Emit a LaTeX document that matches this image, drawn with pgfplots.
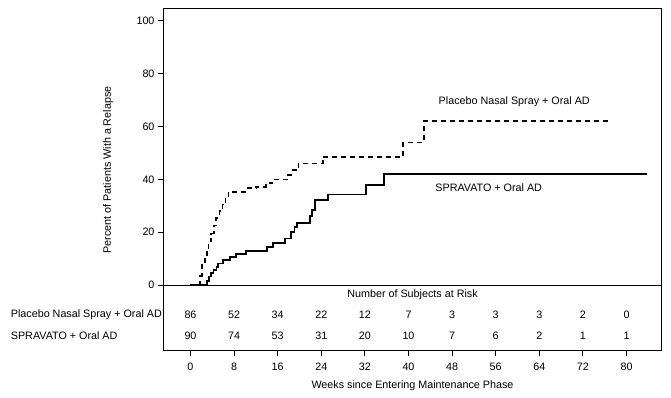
\documentclass[border=0pt]{standalone}
\usepackage{pgfplots}
\usepackage{pgfplotstable}
\pgfplotsset{compat=1.18}
\usepackage{fontspec}
\setmainfont{Liberation Sans}
\newcommand\ff{\fontsize{10.8}{12}\selectfont}

\pgfplotstableread{
x y
0 0
1.75 3.5
2.1 8.2
2.6 10.5
3.0 13
3.3 16.5
3.8 19.5
4.3 22.5
4.7 25.5
5.3 28
5.9 30.5
6.4 33
7.0 35.3
10.5 36.6
12.0 37.2
13.8 38.5
15.0 40
17.9 41.7
18.8 43.5
19.8 46
24.3 48.6
39.0 54
42.8 62
76.6 62
}\placebo

\pgfplotstableread{
x y
0 0
3.0 1.5
3.4 3.2
3.8 4.6
4.2 5.8
4.8 6.9
5.1 8.2
6.0 9.5
7.2 10.7
8.3 11.7
10.2 13.0
14.0 14.5
15.2 16.0
17.3 17.6
18.5 20.2
19.1 22.0
19.5 23.6
21.9 26.0
22.3 28.4
22.8 32.2
25.2 34.3
32.2 37.9
35.5 42.0
83.7 42.0
}\spravato

\pgfplotstableread{
x y n
0 -11.4 86
8 -11.4 52
16 -11.4 34
24 -11.4 22
32 -11.4 12
40 -11.4 7
48 -11.4 3
56 -11.4 3
64 -11.4 3
72 -11.4 2
80 -11.4 0
}\riskP

\pgfplotstableread{
x y n
0 -19.3 90
8 -19.3 74
16 -19.3 53
24 -19.3 31
32 -19.3 20
40 -19.3 10
48 -19.3 7
56 -19.3 6
64 -19.3 2
72 -19.3 1
80 -19.3 1
}\riskS

\begin{document}
\begin{tikzpicture}
\begin{axis}[
  scale only axis,
  width=497bp, height=341bp,
  xmin=-4.86, xmax=86.33,
  ymin=-24.6, ymax=104.5,
  clip=false,
  axis line style={line width=1bp},
  every tick/.style={line width=1bp, black},
  tick align=outside,
  major tick length=6bp,
  xtick={0,8,...,80},
  ytick={0,20,...,100},
  xtick pos=bottom,
  ytick pos=left,
  /pgf/number format/assume math mode=true,
  tick label style={font=\ff},
  xticklabel style={yshift=-3bp},
  xlabel={Weeks since Entering Maintenance Phase},
  xlabel style={font=\ff, at={(axis description cs:0.5,-0.1056)}, anchor=center},
  ylabel={Percent of Patients With a Relapse},
  ylabel style={font=\ff, at={(axis description cs:-0.1127,0.528)}, anchor=center},
]
\addplot[black, line width=1bp, forget plot] coordinates {(-4.86,0) (86.33,0)};
\addplot[const plot, black, line width=1.7bp, dash pattern=on 5bp off 4bp] table {\placebo};
\addplot[const plot, black, line width=1.7bp] table {\spravato};
\addplot[draw=none, nodes near coords, point meta=explicit symbolic,
  nodes near coords style={anchor=center, font=\ff}] table[meta=n] {\riskP};
\addplot[draw=none, nodes near coords, point meta=explicit symbolic,
  nodes near coords style={anchor=center, font=\ff}] table[meta=n] {\riskS};
\node[anchor=west, font=\ff] at (axis cs:44.9,69.3) {Placebo Nasal Spray + Oral AD};
\node[anchor=west, font=\ff] at (axis cs:44.3,36.7) {SPRAVATO + Oral AD};
\node[anchor=center, font=\ff] at (axis cs:40.74,-3.8) {Number of Subjects at Risk};
\node[anchor=west, font=\ff] at (axis cs:-33.6,-11.4) {Placebo Nasal Spray + Oral AD};
\node[anchor=west, font=\ff] at (axis cs:-33.6,-19.3) {SPRAVATO + Oral AD};
\end{axis}
\path (current axis.south west) ++(-164bp,-48bp) coordinate (bl);
\path (current axis.north east) ++(10bp,9bp) coordinate (tr);
\path (bl) rectangle (tr);
\end{tikzpicture}
\end{document}
